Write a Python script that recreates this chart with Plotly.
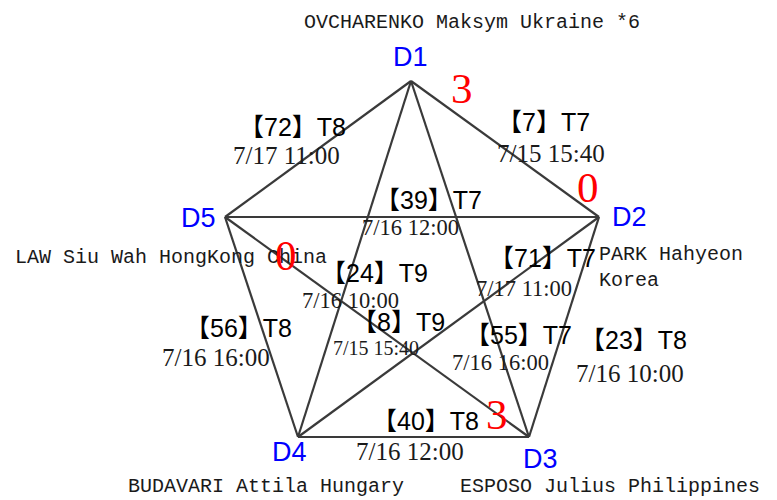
import plotly.graph_objects as go

# ---- data ----
seeds = ["D1", "D2", "D3", "D4", "D5"]
players = ["OVCHARENKO Maksym Ukraine *6", "PARK Hahyeon<br>Korea",
           "ESPOSO Julius Philippines", "BUDAVARI Attila Hungary",
           "LAW Siu Wah HongKong China"]
match_a = ["D1", "D1", "D2", "D1", "D3", "D2", "D1", "D4", "D2", "D3"]
match_b = ["D2", "D5", "D5", "D4", "D5", "D4", "D3", "D5", "D3", "D4"]
match_no = [7, 72, 39, 24, 8, 71, 55, 56, 23, 40]
tables = ["T7", "T8", "T7", "T9", "T9", "T7", "T7", "T8", "T8", "T8"]
times = ["7/15 15:40", "7/17 11:00", "7/16 12:00", "7/16 10:00", "7/15 15:40",
         "7/17 11:00", "7/16 16:00", "7/16 16:00", "7/16 10:00", "7/16 12:00"]
score_a = ["3", None, None, None, "3", None, None, None, None, None]
score_b = ["0", None, None, None, "0", None, None, None, None, None]

# ---- layout (pixel positions of the diagram) ----
node_xy = {"D1": (411, 81), "D2": (599, 217), "D3": (529, 437),
           "D4": (298, 437), "D5": (225, 217)}
seed_lbl = {"D1": (410, 57), "D2": (629, 217), "D3": (540, 459),
            "D4": (289, 452), "D5": (198, 218)}
name_pos = [(472, 22, "center"), (597, 267, "left"), (610, 486, "center"),
            (266, 486, "center"), (171, 257, "center")]
lbl_pos = [(543, 122), (292, 127), (428, 200), (374, 273), (398, 322),
           (542, 258), (518, 335), (238, 328), (633, 340), (425, 421)]
date_pos = [(551, 153, 25), (286, 155, 25), (410, 227, 22.5), (350, 300, 22.5),
            (376, 348, 20), (524, 288, 22.5), (500, 362, 22.5), (216, 357, 25),
            (630, 373, 25), (410, 451, 25)]
score_a_pos = [(462, 88), None, None, None, (497, 414)]
score_b_pos = [(588, 187), None, None, None, (286, 255)]

OFF = 8  # page body margin

fig = go.Figure()
for a, b in zip(match_a, match_b):
    (x0, y0), (x1, y1) = node_xy[a], node_xy[b]
    fig.add_trace(go.Scatter(x=[x0, x1], y=[y0, y1], mode="lines",
                             line=dict(color="#3a3a3a", width=2.2),
                             hoverinfo="skip", showlegend=False))

ann = []
for s in seeds:
    x, y = seed_lbl[s]
    ann.append(dict(x=x, y=y, text=s, font=dict(family="Liberation Sans, Arial", size=27, color="#0000ff")))
for (x, y, al), p in zip(name_pos, players):
    ann.append(dict(x=x, y=y, text=p, xanchor=al, align=al,
                    font=dict(family="Liberation Mono, monospace", size=20, color="#1a1a1a")))
for i in range(len(match_no)):
    x, y = lbl_pos[i]
    ann.append(dict(x=x, y=y, text=f"【{match_no[i]}】{tables[i]}",
                    font=dict(family="Liberation Sans, Noto Sans CJK SC", size=25, color="#000000")))
    dx, dy, fs = date_pos[i]
    ann.append(dict(x=dx, y=dy, text=times[i],
                    font=dict(family="Liberation Serif, serif", size=fs, color="#1a1a1a")))
for i in range(len(score_a_pos)):
    if score_a_pos[i] is not None and score_a[i] is not None:
        x, y = score_a_pos[i]
        ann.append(dict(x=x, y=y, text=score_a[i],
                        font=dict(family="Liberation Serif, serif", size=43, color="#ff0000")))
    if score_b_pos[i] is not None and score_b[i] is not None:
        x, y = score_b_pos[i]
        ann.append(dict(x=x, y=y, text=score_b[i],
                        font=dict(family="Liberation Serif, serif", size=43, color="#ff0000")))
for a in ann:
    a.setdefault("xanchor", "center")
    a.update(xref="x", yref="y", yanchor="middle", showarrow=False)

fig.update_layout(width=777, height=500, margin=dict(l=0, r=0, t=0, b=0),
                  paper_bgcolor="white", plot_bgcolor="white",
                  xaxis=dict(range=[OFF, 777 + OFF], visible=False, fixedrange=True),
                  yaxis=dict(range=[500 + OFF, OFF], visible=False, fixedrange=True),
                  annotations=ann)
fig.write_html("out.html")
